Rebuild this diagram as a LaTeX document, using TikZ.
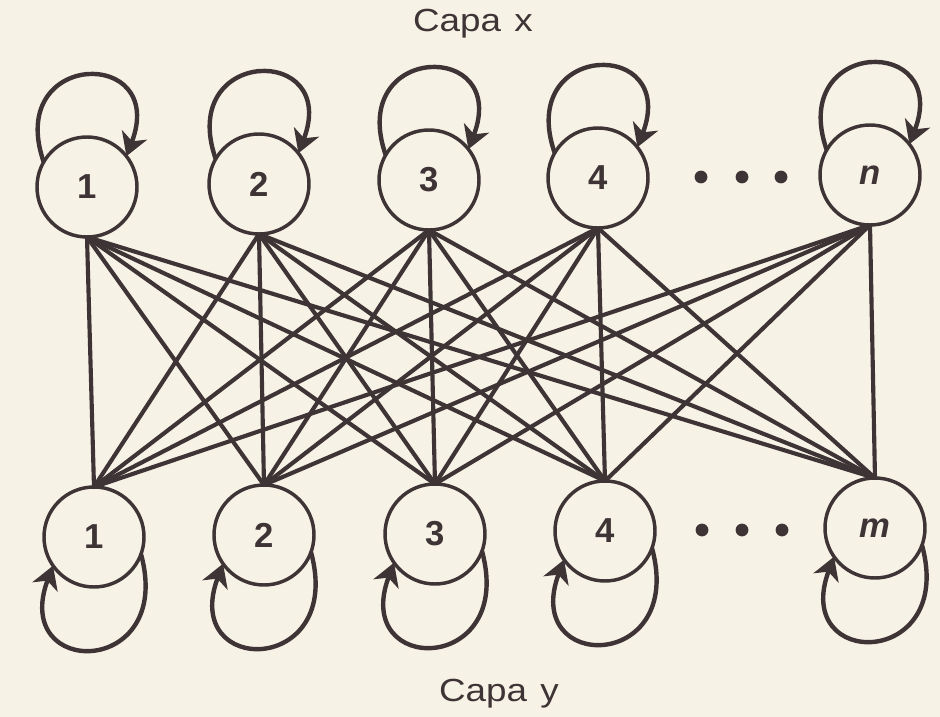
\documentclass[tikz,border=0pt]{standalone}
\usepackage{fontspec}
\setmainfont{Liberation Sans}
\newfontfamily\capafont[FakeStretch=1.15]{Liberation Sans}
\usetikzlibrary{arrows.meta}
\definecolor{paper}{RGB}{246,242,230}
\definecolor{ink}{RGB}{62,52,54}
\tikzset{
  neuron/.style={circle, draw=ink, line width=2.6pt, fill=paper,
    minimum size=75pt, inner sep=0pt, outer sep=0pt,
    font=\fontsize{26pt}{30pt}\selectfont\bfseries, text=ink},
  link/.style={draw=ink, line width=3.1pt},
  selfloop/.style={draw=ink, line width=3.3pt,
    -{Stealth[length=17pt,width=20pt,inset=5pt]}},
  capa/.style={font=\capafont\fontsize{24pt}{28pt}\selectfont, text=ink},
  dotmark/.style={fill=ink}
}
\begin{document}
\begin{tikzpicture}[x=0.75pt,y=-0.75pt]
\useasboundingbox (0,0) rectangle (940,717);
\fill[paper] (0,0) rectangle (940,717);

% neurons
\node[neuron] (t1) at (87,187) {1};
\node[neuron] (t2) at (259,184) {2};
\node[neuron] (t3) at (429,180) {3};
\node[neuron] (t4) at (598,178) {4};
\node[neuron] (tn) at (870,175) {\itshape n};

\node[neuron] (b1) at (94,537) {1};
\node[neuron] (b2) at (264,535) {2};
\node[neuron] (b3) at (435,534) {3};
\node[neuron] (b4) at (605,531) {4};
\node[neuron] (bm) at (875,528) {\itshape m};

% full connections
\foreach \a in {t1,t2,t3,t4,tn}{
  \foreach \b in {b1,b2,b3,b4,bm}{
    \draw[link] (\a.south) -- (\b.north);
  }
}

% self loops
\foreach \a in {t1,t2,t3,t4,tn}{
  \draw[selfloop] (\a.150) .. controls +(-39,-112) and +(42,-110) .. (\a.38);
}
\foreach \b in {b1,b2,b3,b4,bm}{
  \draw[selfloop] (\b.-20) .. controls +(34,124) and +(-43,114) .. (\b.215);
}

% ellipsis dots
\fill[dotmark] (701,177) circle[radius=4.8pt];
\fill[dotmark] (742,177) circle[radius=4.8pt];
\fill[dotmark] (781,177) circle[radius=4.8pt];
\fill[dotmark] (702,530) circle[radius=4.8pt];
\fill[dotmark] (742,530) circle[radius=4.8pt];
\fill[dotmark] (782,530) circle[radius=4.8pt];

% layer labels
\node[capa] (capax) at (473,24) {Capa\hspace{10pt}x};
\node[capa] (capay) at (499,694) {Capa\hspace{10pt}y};
\end{tikzpicture}
\end{document}
